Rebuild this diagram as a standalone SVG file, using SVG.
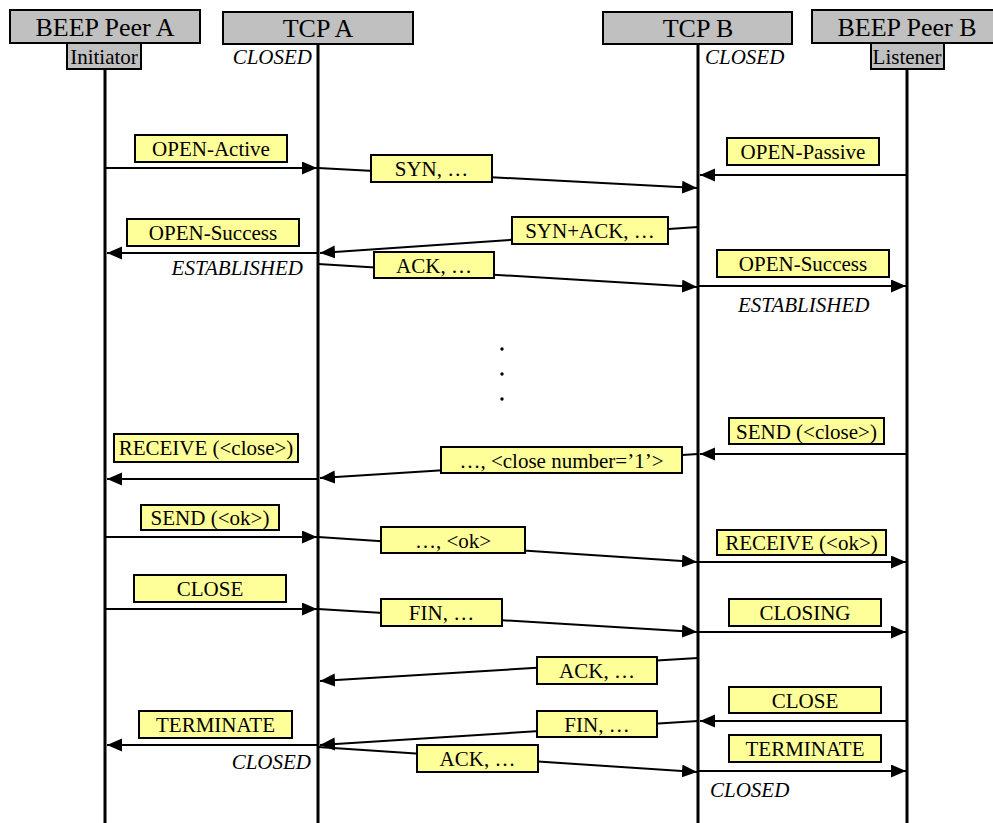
<svg xmlns="http://www.w3.org/2000/svg" width="993" height="823" viewBox="0 0 993 823">
<style>
text{font-family:"Liberation Serif","Times New Roman",serif;fill:#000}
.hdr{fill:#c0c0c0;stroke:#000;stroke-width:2}
.ht{font-size:26px;text-anchor:middle}
.st{font-size:21px;text-anchor:middle}
.life{stroke:#000;stroke-width:3}
.msg{stroke:#000;stroke-width:2;fill:none;marker-end:url(#ah)}
.lbl{fill:#ffff99;stroke:#000;stroke-width:2}
.lt{font-size:21px;text-anchor:middle}
.state{font-size:21px;font-style:italic}
</style>
<defs>
<marker id="ah" markerUnits="userSpaceOnUse" markerWidth="16" markerHeight="14" refX="15" refY="6.5" orient="auto">
<path d="M0,0 L15,6.5 L0,13 z" fill="#000"/>
</marker>
</defs>
<rect width="993" height="823" fill="#fff"/>

<g id="peerA">
<line class="life" x1="105" y1="69" x2="105" y2="823"/>
<rect class="hdr" x="10" y="10" width="190" height="33"/>
<text class="ht" x="105" y="36">BEEP Peer A</text>
<rect class="hdr" x="67" y="43" width="74" height="26"/>
<text class="st" x="104" y="64">Initiator</text>
</g>
<g id="tcpA">
<line class="life" x1="318" y1="44" x2="318" y2="823"/>
<rect class="hdr" x="223" y="12" width="190" height="32"/>
<text class="ht" x="318" y="37">TCP A</text>
<text class="state" x="312" y="64" text-anchor="end">CLOSED</text>
</g>
<g id="tcpB">
<line class="life" x1="698" y1="44" x2="698" y2="823"/>
<rect class="hdr" x="603" y="12" width="189" height="32"/>
<text class="ht" x="698" y="37">TCP B</text>
<text class="state" x="705" y="64">CLOSED</text>
</g>
<g id="peerB">
<line class="life" x1="907" y1="69" x2="907" y2="823"/>
<rect class="hdr" x="812" y="10" width="190" height="33"/>
<text class="ht" x="907" y="36">BEEP Peer B</text>
<rect class="hdr" x="871" y="43" width="73" height="26"/>
<text class="st" x="907" y="64">Listener</text>
</g>

<g id="connectors">
<g><line class="msg" x1="105" y1="168" x2="317" y2="168"/><rect class="lbl" x="135" y="135" width="152" height="27"/><text class="lt" x="211" y="156">OPEN-Active</text></g>
<g><line class="msg" x1="318" y1="168" x2="697" y2="188"/><rect class="lbl" x="371" y="155" width="121" height="27"/><text class="lt" x="431.5" y="176">SYN, …</text></g>
<g><line class="msg" x1="907" y1="175" x2="700" y2="175"/><rect class="lbl" x="727" y="138" width="152" height="27"/><text class="lt" x="803" y="159">OPEN-Passive</text></g>
<g><line class="msg" x1="698" y1="227" x2="320" y2="253"/><rect class="lbl" x="512" y="217" width="156" height="27"/><text class="lt" x="590" y="238">SYN+ACK, …</text></g>
<g><line class="msg" x1="318" y1="253" x2="107" y2="253"/><rect class="lbl" x="127" y="219" width="172" height="27"/><text class="lt" x="213" y="240">OPEN-Success</text></g>
<g><line class="msg" x1="318" y1="264" x2="697" y2="287"/><rect class="lbl" x="374" y="252" width="120" height="26"/><text class="lt" x="434" y="273">ACK, …</text></g>
<g><line class="msg" x1="698" y1="286" x2="906" y2="286"/><rect class="lbl" x="717" y="250" width="172" height="27"/><text class="lt" x="803" y="271">OPEN-Success</text></g>

<g><line class="msg" x1="907" y1="454" x2="700" y2="454"/><rect class="lbl" x="729" y="418" width="155" height="26"/><text class="lt" x="806.5" y="439">SEND (&lt;close&gt;)</text></g>
<g><line class="msg" x1="698" y1="454" x2="320" y2="478"/><rect class="lbl" x="441" y="447" width="241" height="26"/><text class="lt" x="561.5" y="468">…, &lt;close number=’1’&gt;</text></g>
<g><line class="msg" x1="318" y1="479" x2="107" y2="479"/><rect class="lbl" x="114" y="434" width="184" height="28"/><text class="lt" x="206" y="455">RECEIVE (&lt;close&gt;)</text></g>
<g><line class="msg" x1="105" y1="537" x2="317" y2="537"/><rect class="lbl" x="141" y="505" width="138" height="25"/><text class="lt" x="210" y="525">SEND (&lt;ok&gt;)</text></g>
<g><line class="msg" x1="318" y1="537" x2="697" y2="562"/><rect class="lbl" x="381" y="527" width="144" height="26"/><text class="lt" x="453" y="548">…, &lt;ok&gt;</text></g>
<g><line class="msg" x1="698" y1="562" x2="906" y2="562"/><rect class="lbl" x="717" y="530" width="169" height="25"/><text class="lt" x="801.5" y="550">RECEIVE (&lt;ok&gt;)</text></g>
<g><line class="msg" x1="105" y1="609" x2="317" y2="609"/><rect class="lbl" x="134" y="575" width="152" height="27"/><text class="lt" x="210" y="596">CLOSE</text></g>
<g><line class="msg" x1="318" y1="609" x2="697" y2="632"/><rect class="lbl" x="381" y="599" width="121" height="27"/><text class="lt" x="441.5" y="620">FIN, …</text></g>
<g><line class="msg" x1="698" y1="632" x2="906" y2="632"/><rect class="lbl" x="729" y="599" width="152" height="27"/><text class="lt" x="805" y="620">CLOSING</text></g>
<g><line class="msg" x1="698" y1="658" x2="320" y2="681"/><rect class="lbl" x="537" y="657" width="120" height="27"/><text class="lt" x="597" y="678">ACK, …</text></g>
<g><line class="msg" x1="907" y1="721" x2="700" y2="721"/><rect class="lbl" x="729" y="687" width="152" height="26"/><text class="lt" x="805" y="708">CLOSE</text></g>
<g><line class="msg" x1="698" y1="721" x2="320" y2="745"/><rect class="lbl" x="537" y="711" width="120" height="26"/><text class="lt" x="597" y="732">FIN, …</text></g>
<g><line class="msg" x1="318" y1="745" x2="107" y2="745"/><rect class="lbl" x="139" y="711" width="153" height="27"/><text class="lt" x="215.5" y="732">TERMINATE</text></g>
<g><line class="msg" x1="318" y1="747" x2="697" y2="772"/><rect class="lbl" x="417" y="745" width="121" height="27"/><text class="lt" x="477.5" y="766">ACK, …</text></g>
<g><line class="msg" x1="698" y1="771" x2="906" y2="771"/><rect class="lbl" x="729" y="735" width="152" height="27"/><text class="lt" x="805" y="756">TERMINATE</text></g>
</g>

<g id="states">
<text class="state" x="303" y="275" text-anchor="end">ESTABLISHED</text>
<text class="state" x="738" y="312">ESTABLISHED</text>
<text class="state" x="311" y="769" text-anchor="end">CLOSED</text>
<text class="state" x="710" y="797">CLOSED</text>
</g>
<g id="ellipsis" fill="#000">
<circle cx="502" cy="349" r="1.7"/>
<circle cx="502" cy="374" r="1.7"/>
<circle cx="502" cy="399" r="1.7"/>
</g>
</svg>
